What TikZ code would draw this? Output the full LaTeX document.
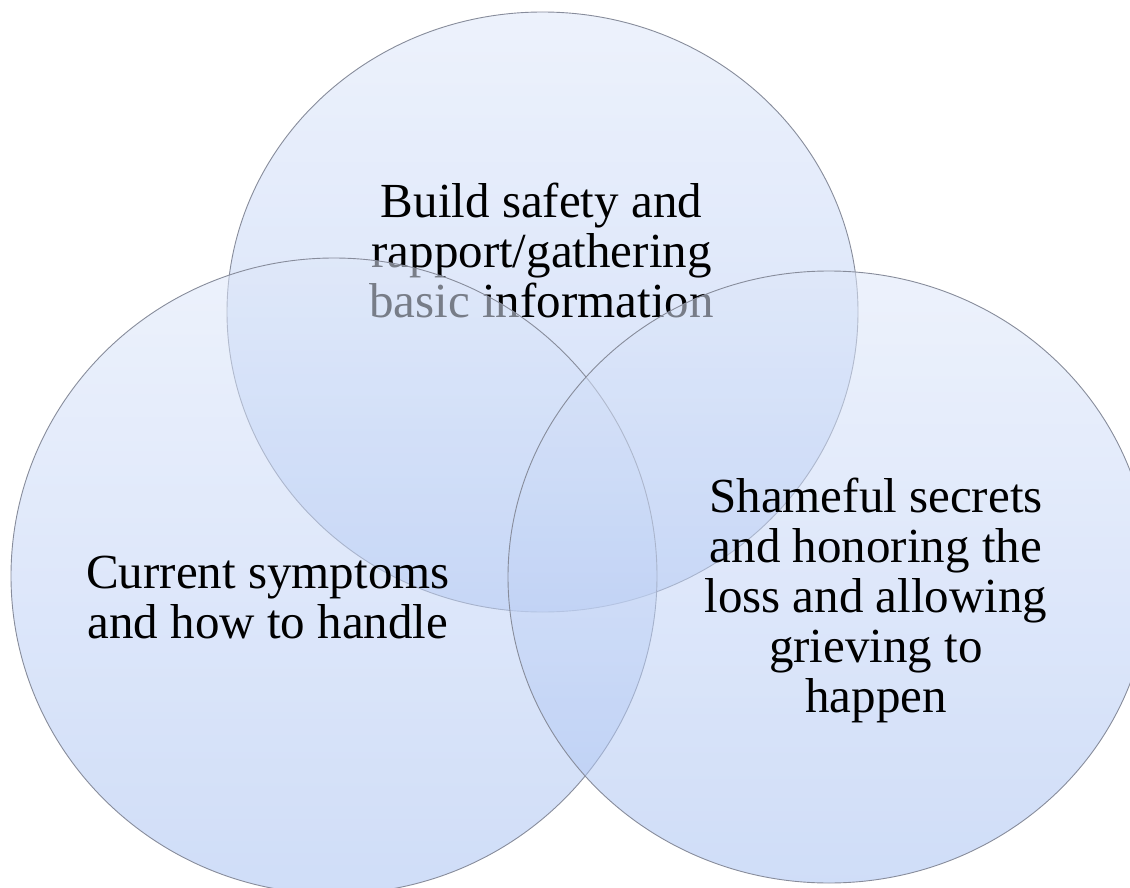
\documentclass[tikz,border=0pt]{standalone}
\usepackage{fontspec}
\setmainfont{Liberation Serif}
\usetikzlibrary{shapes.geometric}

% soft blue fills, lighter at the top of each circle
\definecolor{discTop}{RGB}{222,231,249}
\definecolor{discBottom}{RGB}{168,193,242}
\definecolor{discEdge}{RGB}{135,140,155}

\tikzset{
  disc/.style={ellipse, inner sep=0pt, outer sep=0pt,
    top color=discTop, bottom color=discBottom,
    fill opacity=0.55, draw=discEdge, line width=0.9pt},
  label/.style={align=center, anchor=base, inner sep=0pt, text=black,
    font=\fontsize{49}{50}\selectfont}
}

\begin{document}
\begin{tikzpicture}[x=1pt, y=-1pt]
  \useasboundingbox (0,0) rectangle (1130,888);
  \clip (0,0) rectangle (1130,888);

  % upper circle and its text (placed by the baseline of the last line)
  \node[disc, minimum width=631pt, minimum height=600pt] (safety) at (542.5,312) {};
  \node[label] (safetyText) at (541.5,317)
    {Build safety and\\rapport/gathering\\basic information};

  % lower left circle
  \node[disc, minimum width=646pt, minimum height=636pt] (symptoms) at (334,576) {};
  \node[label] (symptomsText) at (268,638)
    {Current symptoms\\and how to handle};

  % lower right circle
  \node[disc, minimum width=642pt, minimum height=612pt] (grief) at (829,577) {};
  \node[label] (griefText) at (876,712)
    {Shameful secrets\\and honoring the\\loss and allowing\\grieving to\\happen};
\end{tikzpicture}
\end{document}
